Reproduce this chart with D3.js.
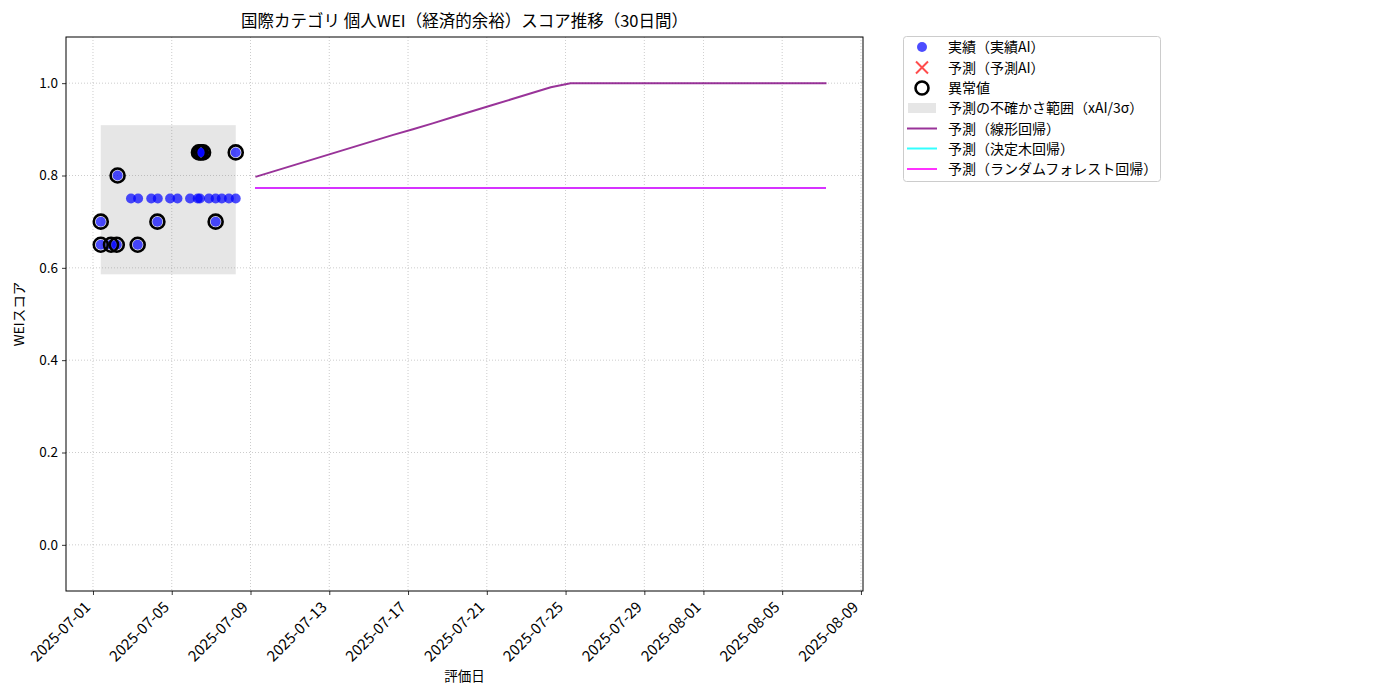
<!DOCTYPE html>
<html><head><meta charset="utf-8">
<script src="https://cdn.jsdelivr.net/npm/d3@7"></script>
<style>
body{margin:0;background:#fff}
svg{display:block}
text{font-family:"Noto Sans CJK JP","Noto Sans",sans-serif;fill:#000}
</style>
</head><body>
<svg id="chart" width="1400" height="700"></svg>
<script>
// ---------------- data ----------------
const titleText = "国際カテゴリ 個人WEI（経済的余裕）スコア推移（30日間）";
const xLabel = "評価日";
const yLabel = "WEIスコア";

const actualDates = [
  "2025-07-01 09:30","2025-07-01 09:30","2025-07-01 22:00","2025-07-02 05:00","2025-07-02 06:00",
  "2025-07-02 22:20","2025-07-03 07:00","2025-07-03 06:30","2025-07-03 23:00","2025-07-04 07:00",
  "2025-07-04 06:30","2025-07-04 22:00","2025-07-05 07:00","2025-07-05 22:20","2025-07-06 07:40",
  "2025-07-06 10:20","2025-07-06 09:10","2025-07-06 11:30","2025-07-06 14:10","2025-07-06 21:20",
  "2025-07-07 05:30","2025-07-07 05:30","2025-07-07 13:00","2025-07-07 21:40","2025-07-08 06:00",
  "2025-07-08 06:00"
];
const actualScores = [
  0.70,0.65,0.65,0.65,0.80,
  0.75,0.75,0.65,0.75,0.75,
  0.70,0.75,0.75,0.75,0.75,
  0.75,0.85,0.85,0.85,0.75,
  0.75,0.70,0.75,0.75,0.75,
  0.85
];
const anomalyDates = [
  "2025-07-01 09:30","2025-07-01 09:30","2025-07-01 22:00","2025-07-02 05:00","2025-07-02 06:00",
  "2025-07-03 06:30","2025-07-04 06:30","2025-07-06 09:10","2025-07-06 11:30","2025-07-06 14:10",
  "2025-07-07 05:30","2025-07-08 06:00"
];
const anomalyScores = [0.70,0.65,0.65,0.65,0.80,0.65,0.70,0.85,0.85,0.85,0.70,0.85];

const uncertaintyLower = 0.586;
const uncertaintyUpper = 0.909;

const forecastDates = [
  "2025-07-09 06:00","2025-07-10 06:00","2025-07-11 06:00","2025-07-12 06:00","2025-07-13 06:00",
  "2025-07-14 06:00","2025-07-15 06:00","2025-07-16 06:00","2025-07-17 06:00","2025-07-18 06:00",
  "2025-07-19 06:00","2025-07-20 06:00","2025-07-21 06:00","2025-07-22 06:00","2025-07-23 06:00",
  "2025-07-24 06:00","2025-07-25 06:00","2025-07-26 06:00","2025-07-27 06:00","2025-07-28 06:00",
  "2025-07-29 06:00","2025-07-30 06:00","2025-07-31 06:00","2025-08-01 06:00","2025-08-02 06:00",
  "2025-08-03 06:00","2025-08-04 06:00","2025-08-05 06:00","2025-08-06 06:00","2025-08-07 06:00"
];
const linearPred = [
  0.797,0.810,0.823,0.836,0.849,0.862,0.875,0.888,0.900,0.913,
  0.926,0.939,0.952,0.965,0.978,0.991,1.000,1.000,1.000,1.000,
  1.000,1.000,1.000,1.000,1.000,1.000,1.000,1.000,1.000,1.000
];
const treePred = [
  0.774,0.774,0.774,0.774,0.774,0.774,0.774,0.774,0.774,0.774,
  0.774,0.774,0.774,0.774,0.774,0.774,0.774,0.774,0.774,0.774,
  0.774,0.774,0.774,0.774,0.774,0.774,0.774,0.774,0.774,0.774
];
const forestPred = [
  0.774,0.774,0.774,0.774,0.774,0.774,0.774,0.774,0.774,0.774,
  0.774,0.774,0.774,0.774,0.774,0.774,0.774,0.774,0.774,0.774,
  0.774,0.774,0.774,0.774,0.774,0.774,0.774,0.774,0.774,0.774
];

const xTickLabels = ["2025-07-01","2025-07-05","2025-07-09","2025-07-13","2025-07-17","2025-07-21",
  "2025-07-25","2025-07-29","2025-08-01","2025-08-05","2025-08-09"];
const yTickValues = [0.0,0.2,0.4,0.6,0.8,1.0];
const xDomain = ["2025-06-29 15:07","2025-08-09 02:30"];
const yDomain = [-0.1,1.1];

const legendLabels = ["実績（実績AI）","予測（予測AI）","異常値","予測の不確かさ範囲（xAI/3σ）",
  "予測（線形回帰）","予測（決定木回帰）","予測（ランダムフォレスト回帰）"];

// ---------------- drawing ----------------
const parseDT = d3.timeParse("%Y-%m-%d %H:%M");
const parseD = d3.timeParse("%Y-%m-%d");
const svg = d3.select("#chart");
const L = 66, R = 863, T = 37, B = 591;

const x = d3.scaleTime().domain(xDomain.map(parseDT)).range([L, R]);
const y = d3.scaleLinear().domain(yDomain).range([B, T]);
const xTicks = xTickLabels.map(parseD);

// grid
const grid = svg.append("g");
grid.selectAll("line.gx").data(xTicks).join("line")
  .attr("x1", d => x(d)).attr("x2", d => x(d)).attr("y1", T).attr("y2", B)
  .attr("stroke", "#b0b0b0").attr("stroke-width", 0.8).attr("stroke-dasharray", "1,2").attr("opacity", 0.8);
grid.selectAll("line.gy").data(yTickValues).join("line")
  .attr("y1", d => y(d)).attr("y2", d => y(d)).attr("x1", L).attr("x2", R)
  .attr("stroke", "#b0b0b0").attr("stroke-width", 0.8).attr("stroke-dasharray", "1,2").attr("opacity", 0.8);

// uncertainty band over the span of actual data
const aDates = actualDates.map(parseDT);
const [bx0, bx1] = d3.extent(aDates);
svg.append("rect")
  .attr("x", x(bx0)).attr("width", x(bx1) - x(bx0))
  .attr("y", y(uncertaintyUpper)).attr("height", y(uncertaintyLower) - y(uncertaintyUpper))
  .attr("fill", "#808080").attr("fill-opacity", 0.2);

// actual points
svg.append("g").selectAll("circle").data(aDates.map((d, i) => [d, actualScores[i]])).join("circle")
  .attr("cx", d => x(d[0])).attr("cy", d => y(d[1])).attr("r", 5)
  .attr("fill", "#0000ff").attr("fill-opacity", 0.7);

// anomalies
svg.append("g").selectAll("circle").data(anomalyDates.map((d, i) => [parseDT(d), anomalyScores[i]])).join("circle")
  .attr("cx", d => x(d[0])).attr("cy", d => y(d[1])).attr("r", 7)
  .attr("fill", "none").attr("stroke", "#000").attr("stroke-width", 2.6);

// forecast lines
const fDates = forecastDates.map(parseDT);
const line = d3.line().x(d => x(d[0])).y(d => y(d[1]));
const series = [
  {vals: linearPred, color: "#800080", crisp: false},
  {vals: treePred, color: "#00ffff", crisp: true},
  {vals: forestPred, color: "#ff00ff", crisp: true}
];
series.forEach(s => {
  svg.append("path").datum(fDates.map((d, i) => [d, s.vals[i]]))
    .attr("d", line).attr("fill", "none").attr("stroke", s.color)
    .attr("stroke-opacity", 0.8).attr("stroke-width", 2)
    .attr("shape-rendering", s.crisp ? "crispEdges" : "auto");
});

// axes
const xAxis = svg.append("g").attr("transform", `translate(0,${B})`)
  .call(d3.axisBottom(x).tickValues(xTicks).tickFormat(d3.timeFormat("%Y-%m-%d")).tickSize(4).tickSizeOuter(0));
xAxis.select(".domain").remove();
xAxis.selectAll("line").attr("stroke", "#000").attr("stroke-width", 0.8);
xAxis.selectAll("text")
  .attr("font-size", 15).attr("text-anchor", "end")
  .attr("dy", null).attr("y", null)
  .attr("transform", "translate(-2,17) rotate(-45)");

const yAxis = svg.append("g").attr("transform", `translate(${L},0)`)
  .call(d3.axisLeft(y).tickValues(yTickValues).tickFormat(d3.format(".1f")).tickSize(4).tickSizeOuter(0));
yAxis.select(".domain").remove();
yAxis.selectAll("line").attr("stroke", "#000").attr("stroke-width", 0.8);
yAxis.selectAll("text").attr("font-size", 13.5).attr("x", -8);

// frame
svg.append("rect").attr("x", L).attr("y", T).attr("width", R - L).attr("height", B - T)
  .attr("fill", "none").attr("stroke", "#000").attr("stroke-width", 1);

// titles
svg.append("text").attr("x", (L + R) / 2).attr("y", 27).attr("text-anchor", "middle")
  .attr("font-size", 16.5).text(titleText);
svg.append("text").attr("x", (L + R) / 2).attr("y", 681).attr("text-anchor", "middle")
  .attr("font-size", 13.5).text(xLabel);
svg.append("text").attr("transform", `translate(24,${(T + B) / 2}) rotate(-90)`)
  .attr("text-anchor", "middle").attr("font-size", 13.5).text(yLabel);

// legend
const lg = svg.append("g");
lg.append("rect").attr("x", 903.5).attr("y", 36.5).attr("width", 257).attr("height", 145).attr("rx", 3)
  .attr("fill", "#fff").attr("fill-opacity", 0.8).attr("stroke", "#cccccc");
const ly = [47, 67.5, 88, 108, 128.5, 148.5, 169];
const mx = 922;
legendLabels.forEach((t, i) => {
  lg.append("text").attr("x", 948).attr("y", ly[i]).attr("dy", "0.36em").attr("font-size", 14).text(t);
});
lg.append("circle").attr("cx", mx).attr("cy", ly[0]).attr("r", 5).attr("fill", "#0000ff").attr("fill-opacity", 0.7);
lg.append("path").attr("d", `M${mx-6},${ly[1]-6}L${mx+6},${ly[1]+6}M${mx-6},${ly[1]+6}L${mx+6},${ly[1]-6}`)
  .attr("stroke", "#ff0000").attr("stroke-opacity", 0.7).attr("stroke-width", 2);
lg.append("circle").attr("cx", mx).attr("cy", ly[2]).attr("r", 6.5).attr("fill", "none").attr("stroke", "#000").attr("stroke-width", 2.6);
lg.append("rect").attr("x", 908).attr("y", ly[3] - 5).attr("width", 28).attr("height", 10)
  .attr("fill", "#808080").attr("fill-opacity", 0.2);
series.forEach((s, i) => {
  lg.append("line").attr("x1", 907).attr("x2", 937).attr("y1", ly[4 + i]).attr("y2", ly[4 + i])
    .attr("stroke", s.color).attr("stroke-opacity", 0.8).attr("stroke-width", 2);
});
</script>
</body></html>
